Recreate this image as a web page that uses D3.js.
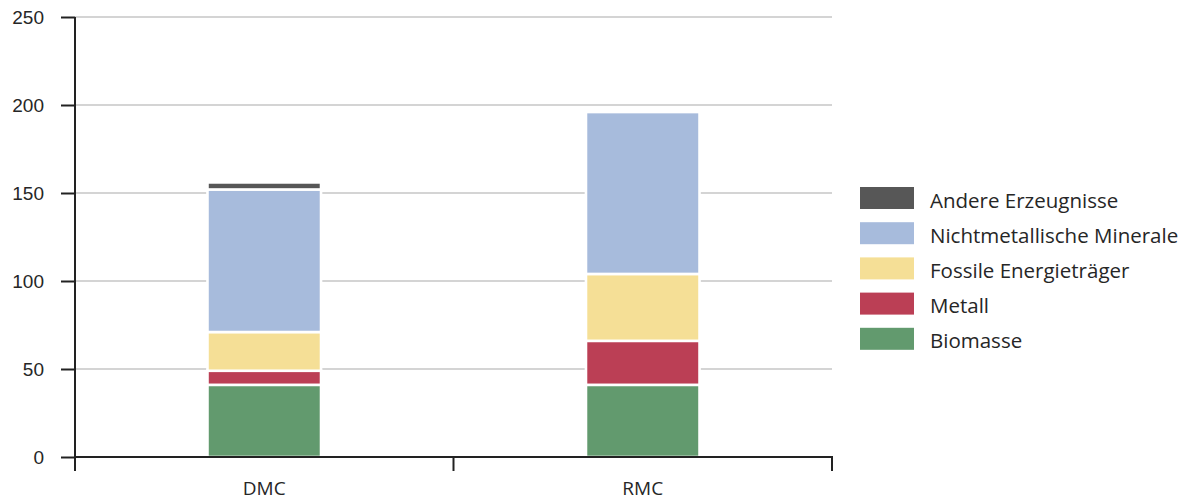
<!DOCTYPE html>
<html>
<head>
<meta charset="utf-8">
<script src="https://cdn.jsdelivr.net/npm/d3@7"></script>
<style>
  html, body { margin: 0; padding: 0; background: #fff; }
  svg { display: block; font-family: "Open Sans", Lato, sans-serif; }
</style>
</head>
<body>
<svg id="chart" width="1186" height="501"></svg>
<script>
// Material consumption indicators, stacked by material group
const categories = ["DMC", "RMC"];
const seriesNames = ["Biomasse", "Metall", "Fossile Energieträger", "Nichtmetallische Minerale", "Andere Erzeugnisse"];
const biomasse = [41, 41];
const metall = [8, 25];
const fossile = [22, 38];
const nichtmetallisch = [81, 92];
const andere = [4, 0];
const yTicks = [0, 50, 100, 150, 200, 250];
const colors = ["#629a6e", "#bb3f55", "#f5df96", "#a7bbdc", "#575757"];

const seriesValues = [biomasse, metall, fossile, nichtmetallisch, andere];
const rows = categories.map((c, i) => {
  const r = { category: c };
  seriesNames.forEach((s, k) => { r[s] = seriesValues[k][i]; });
  return r;
});

const svg = d3.select("#chart");
const plotLeft = 75, plotRight = 832, plotTop = 17, plotBottom = 457;
const textColor = "#262626";

const x = d3.scaleBand().domain(categories).range([plotLeft, plotRight]).paddingInner(0.7).paddingOuter(0.35);
const xBand = d3.scaleBand().domain(categories).range([plotLeft, plotRight]);
const y = d3.scaleLinear().domain([0, 250]).range([plotBottom, plotTop]);
const color = d3.scaleOrdinal().domain(seriesNames).range(colors);

// horizontal grid lines
svg.append("g")
  .selectAll("line")
  .data(yTicks.filter(d => d > 0))
  .join("line")
  .attr("x1", plotLeft).attr("x2", plotRight)
  .attr("y1", d => y(d)).attr("y2", d => y(d))
  .attr("stroke", "#d4d4d4").attr("stroke-width", 2);

// stacked bars
const stacked = d3.stack().keys(seriesNames)(rows);
svg.append("g")
  .selectAll("g")
  .data(stacked)
  .join("g")
  .attr("fill", d => color(d.key))
  .selectAll("rect")
  .data(d => d.filter(p => p[1] - p[0] > 0))
  .join("rect")
  .attr("x", d => x(d.data.category))
  .attr("width", x.bandwidth())
  .attr("y", d => y(d[1]))
  .attr("height", d => y(d[0]) - y(d[1]))
  .attr("stroke", "#fff")
  .attr("stroke-width", 2.6);

// y axis
const yAxis = svg.append("g")
  .attr("transform", `translate(${plotLeft},0)`)
  .call(d3.axisLeft(y).tickValues(yTicks).tickSize(14).tickPadding(17));
yAxis.select(".domain").attr("stroke", "#222").attr("stroke-width", 2).attr("d", `M0,${plotTop}V${plotBottom + 6}`);
yAxis.selectAll(".tick line").attr("stroke", "#222").attr("stroke-width", 2);
yAxis.selectAll(".tick text").attr("fill", textColor).style("font-size", "19px");

// x axis: ticks at band boundaries
const xg = svg.append("g");
xg.append("line")
  .attr("x1", plotLeft - 1).attr("x2", plotRight + 1)
  .attr("y1", plotBottom).attr("y2", plotBottom)
  .attr("stroke", "#222").attr("stroke-width", 2);
const edges = categories.map(c => xBand(c)).concat([xBand.range()[1]]);
xg.selectAll("line.edge")
  .data(edges)
  .join("line")
  .attr("class", "edge")
  .attr("x1", d => d).attr("x2", d => d)
  .attr("y1", plotBottom).attr("y2", plotBottom + 14)
  .attr("stroke", "#222").attr("stroke-width", 2);
xg.selectAll("text")
  .data(categories)
  .join("text")
  .attr("x", d => x(d) + x.bandwidth() / 2)
  .attr("y", 495)
  .attr("text-anchor", "middle")
  .attr("fill", textColor)
  .style("font-size", "19px")
  .text(d => d);

// legend, top item is the last stacked series
const legendItems = seriesNames.slice().reverse();
const legend = svg.append("g").attr("transform", "translate(860,187)");
const item = legend.selectAll("g")
  .data(legendItems)
  .join("g")
  .attr("transform", (d, i) => `translate(0,${i * 35.2})`);
item.append("rect")
  .attr("width", 54).attr("height", 22)
  .attr("fill", d => color(d));
item.append("text")
  .attr("x", 70).attr("y", 20.5)
  .attr("fill", textColor)
  .style("font-size", "20.5px")
  .text(d => d);
</script>
</body>
</html>
